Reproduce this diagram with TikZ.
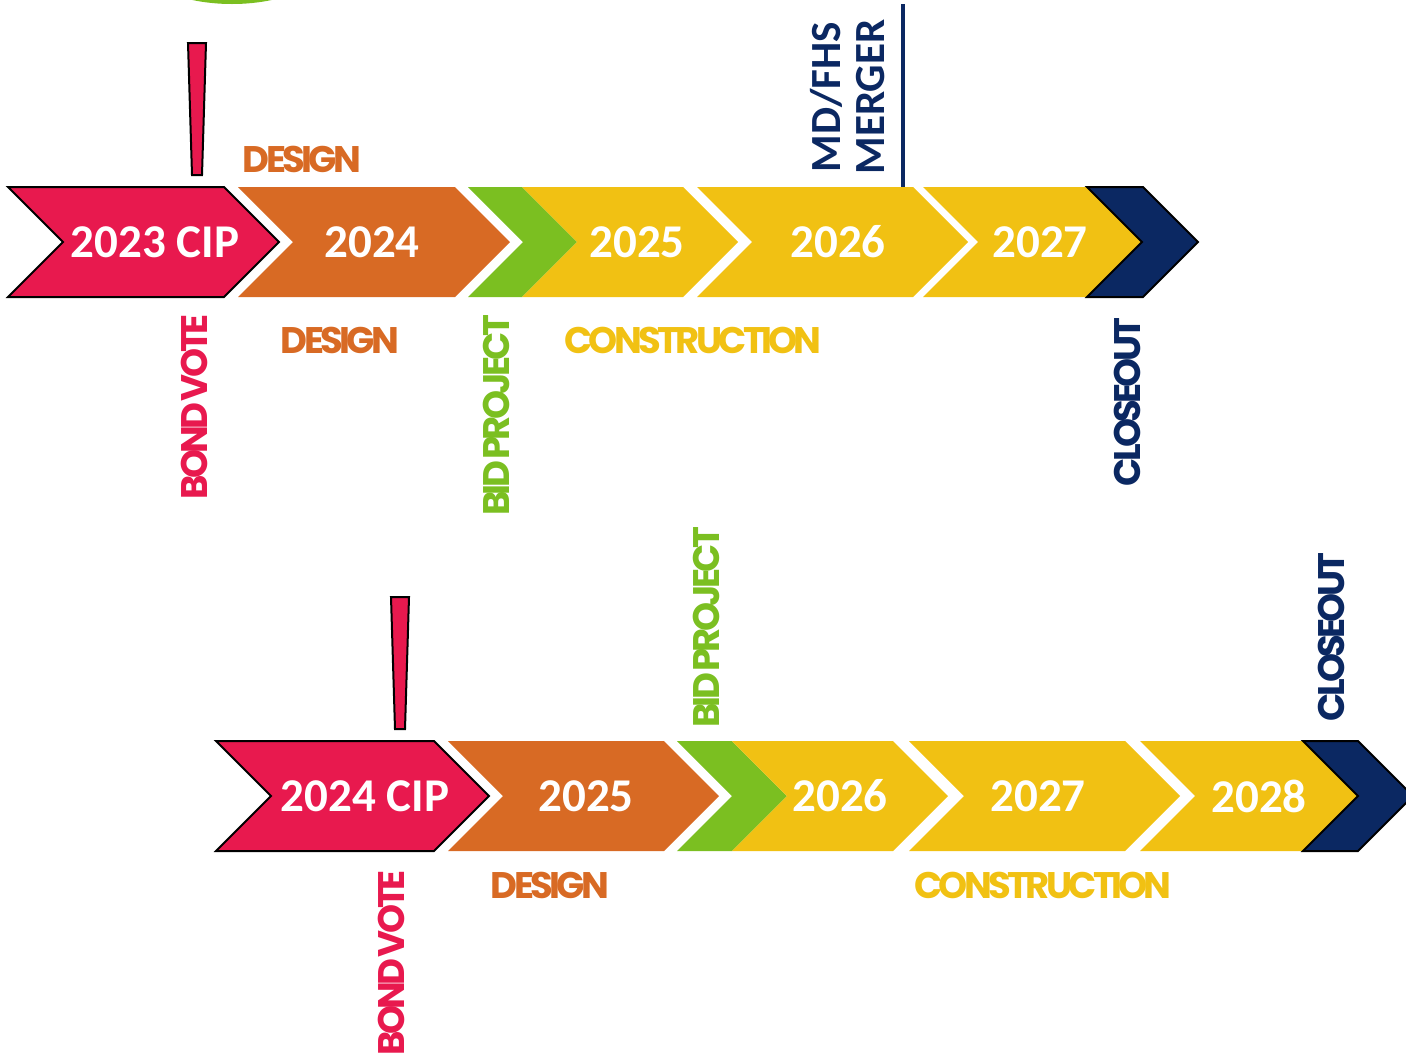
\documentclass[tikz,border=0pt]{standalone}
\usepackage{fontspec}
\setmainfont{Carlito}
\newfontfamily\lblfont{Poppins}[LetterSpace=-10,WordSpace=0.3]
\definecolor{cpink}{HTML}{E8194E}
\definecolor{corange}{HTML}{D86A24}
\definecolor{cgreen}{HTML}{7BBF21}
\definecolor{cyellow}{HTML}{F1C113}
\definecolor{cnavy}{HTML}{0B2862}
\tikzstyle{yr}=[text=white,inner sep=0pt,font=\fontsize{23.5}{24}\selectfont\bfseries]
\tikzstyle{lbl}=[inner sep=0pt,font=\fontsize{18.5}{19}\selectfont\lblfont\bfseries]
\tikzstyle{vlbl}=[lbl,rotate=90]
\tikzstyle{edge}=[draw=black,line width=1pt]

\begin{document}
\begin{tikzpicture}[x=0.5pt,y=-0.5pt,line join=miter]
\useasboundingbox (0,0) rectangle (1406,1056);
\def\chev#1#2#3{(#1,#3-55) -- (#2,#3-55) -- (#2+55,#3) -- (#2,#3+55) -- (#1,#3+55) -- (#1+55,#3) -- cycle}
\def\spike#1#2#3{(#1-9,#2) -- (#1+9,#2) -- (#1+5,#3) -- (#1-5,#3) -- cycle}
\fill[cgreen] (232,-45) ellipse [x radius=100,y radius=49];
% 2023 plan
\fill[cgreen] \chev{468}{522}{242};
\fill[cyellow] \chev{522}{683}{242};
\fill[cyellow] \chev{697}{913}{242};
\fill[cyellow] \chev{923}{1087}{242};
\fill[corange] \chev{238}{455}{242};
\filldraw[fill=cpink,edge] \chev{8}{224}{242};
\filldraw[fill=cnavy,edge] \chev{1087}{1143}{242};
\filldraw[fill=cpink,edge] \spike{197}{43}{175};
\node[yr] (y23) at (155,242) {2023 CIP};
\node[yr] (y24) at (372,242) {2024};
\node[yr] (y25) at (637,242) {2025};
\node[yr] (y26) at (838,242) {2026};
\node[yr] (y27) at (1040,242) {2027};
\node[rotate=90,align=center,inner sep=0pt,text=cnavy,font=\fontsize{21.5}{22}\selectfont\bfseries] (merger) at (848,97) {MD/FHS\\MERGER};
\coordinate (mtop) at (903,4);
\coordinate (mbot) at (903,187);
\draw[cnavy,line width=2pt] (mtop) -- (mbot);
\node[lbl,text=corange] (design0) at (302,159) {DESIGN};
\node[vlbl,text=cpink] (vote1) at (194,407) {BOND VOTE};
\node[lbl,text=corange] (design1) at (340,340) {DESIGN};
\node[vlbl,text=cgreen] (bid1) at (496,415) {BID PROJECT};
\node[lbl,text=cyellow] (build1) at (693,340) {CONSTRUCTION};
\node[vlbl,text=cnavy] (close1) at (1127,402) {CLOSEOUT};
% 2024 plan
\fill[cgreen] \chev{677}{732}{796};
\fill[cyellow] \chev{732}{893}{796};
\fill[cyellow] \chev{909}{1125}{796};
\fill[cyellow] \chev{1140}{1303}{796};
\fill[corange] \chev{448}{664}{796};
\filldraw[fill=cpink,edge] \chev{216}{434}{796};
\filldraw[fill=cnavy,edge] \chev{1303}{1358}{796};
\filldraw[fill=cpink,edge] \spike{400}{597}{729};
\node[yr] (z24) at (365,796) {2024 CIP};
\node[yr] (z25) at (586,796) {2025};
\node[yr] (z26) at (840,796) {2026};
\node[yr] (z27) at (1038,796) {2027};
\node[yr] (z28) at (1259,796) {2028};
\node[vlbl,text=cpink] (vote2) at (391,963) {BOND VOTE};
\node[lbl,text=corange] (design2) at (550,885) {DESIGN};
\node[vlbl,text=cgreen] (bid2) at (706,627) {BID PROJECT};
\node[lbl,text=cyellow] (build2) at (1043,885) {CONSTRUCTION};
\node[vlbl,text=cnavy] (close2) at (1331,637) {CLOSEOUT};
\end{tikzpicture}
\end{document}
